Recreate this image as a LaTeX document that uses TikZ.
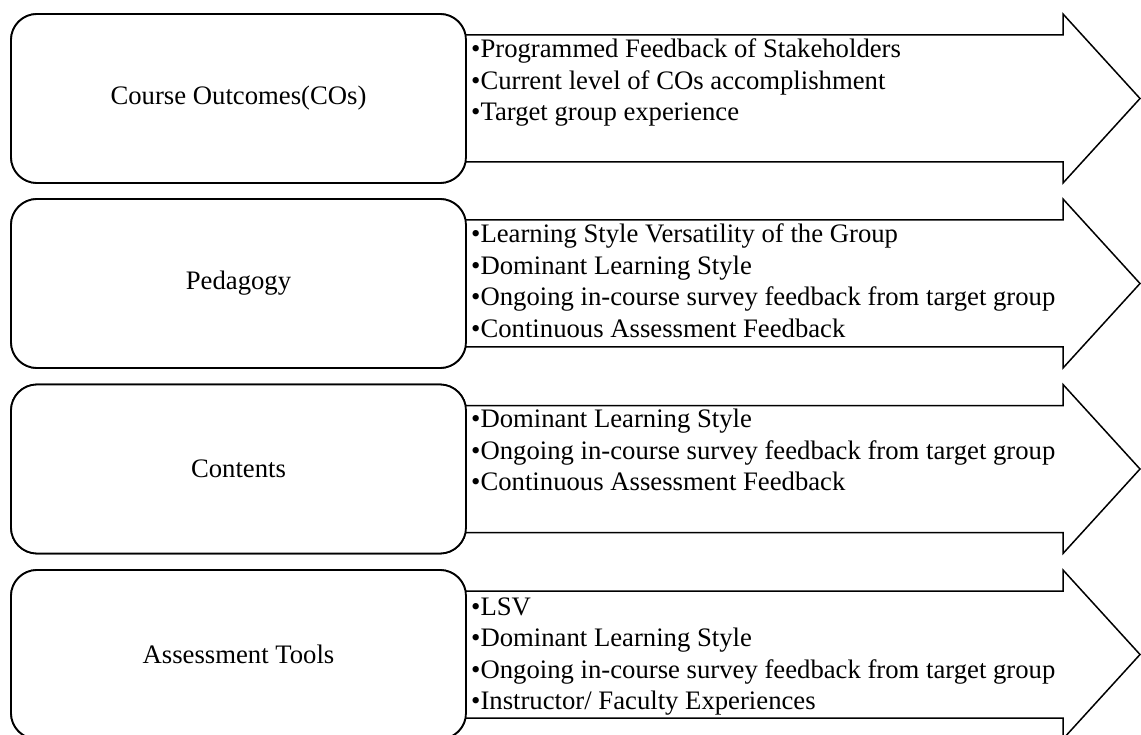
\documentclass[tikz,border=0pt]{standalone}
\usepackage{fontspec}
\setmainfont{Liberation Serif}
\usetikzlibrary{positioning,calc}

\tikzset{
  stagebox/.style={draw,line width=1.8pt,rounded corners=26pt,fill=white,
    minimum width=455pt,minimum height=169pt,outer sep=0pt,inner sep=0pt,
    font=\fontsize{26.7}{31.5}\selectfont},
  flowarrow/.style={draw,line width=1.5pt,fill=white,line join=miter},
  itemlist/.style={align=left,anchor=base west,inner sep=0pt,
    font=\fontsize{26.7}{31.5}\selectfont},
}

\begin{document}
\begin{tikzpicture}[x=1pt,y=-1pt]
  \useasboundingbox (0,0) rectangle (1141,735);

  % left boxes
  \node[stagebox] (co)    at (238.5,98.5)  {Course Outcomes(COs)};
  \node[stagebox] (ped)   at (238.5,283.5) {Pedagogy};
  \node[stagebox] (cont)  at (238.5,469)   {Contents};
  \node[stagebox] (tools) at (238.5,654.5) {Assessment Tools};

  % arrows behind the boxes
  \begin{scope}[on background layer/.try]
  \foreach \n in {co,ped,cont,tools}{
    \draw[flowarrow] ($(\n.north east)+(-4,21)$) -- ($(\n.north east)+(597,21)$)
      -- ($(\n.north east)+(597,0)$) -- ($(\n.east)+(674,0)$)
      -- ($(\n.south east)+(597,0)$) -- ($(\n.south east)+(597,-21)$)
      -- ($(\n.south east)+(-4,-21)$) -- cycle;
  }
  \end{scope}

  % redraw boxes on top of the arrow ends
  \node[stagebox] at (co)    {Course Outcomes(COs)};
  \node[stagebox] at (ped)   {Pedagogy};
  \node[stagebox] at (cont)  {Contents};
  \node[stagebox] at (tools) {Assessment Tools};

  % items (base = last line)
  \node[itemlist] (coitems) at ($(co.north east)+(5,107)$)
    {\textbullet Programmed Feedback of Stakeholders\\
     \textbullet Current level of COs accomplishment\\
     \textbullet Target group experience};
  \node[itemlist] (peditems) at ($(ped.north east)+(5,138.5)$)
    {\textbullet Learning Style Versatility of the Group\\
     \textbullet Dominant Learning Style\\
     \textbullet Ongoing in-course survey feedback from target group\\
     \textbullet Continuous Assessment Feedback};
  \node[itemlist] (contitems) at ($(cont.north east)+(5,106)$)
    {\textbullet Dominant Learning Style\\
     \textbullet Ongoing in-course survey feedback from target group\\
     \textbullet Continuous Assessment Feedback};
  \node[itemlist] (toolitems) at ($(tools.north east)+(5,139.5)$)
    {\textbullet LSV\\
     \textbullet Dominant Learning Style\\
     \textbullet Ongoing in-course survey feedback from target group\\
     \textbullet Instructor/ Faculty Experiences};
\end{tikzpicture}
\end{document}
